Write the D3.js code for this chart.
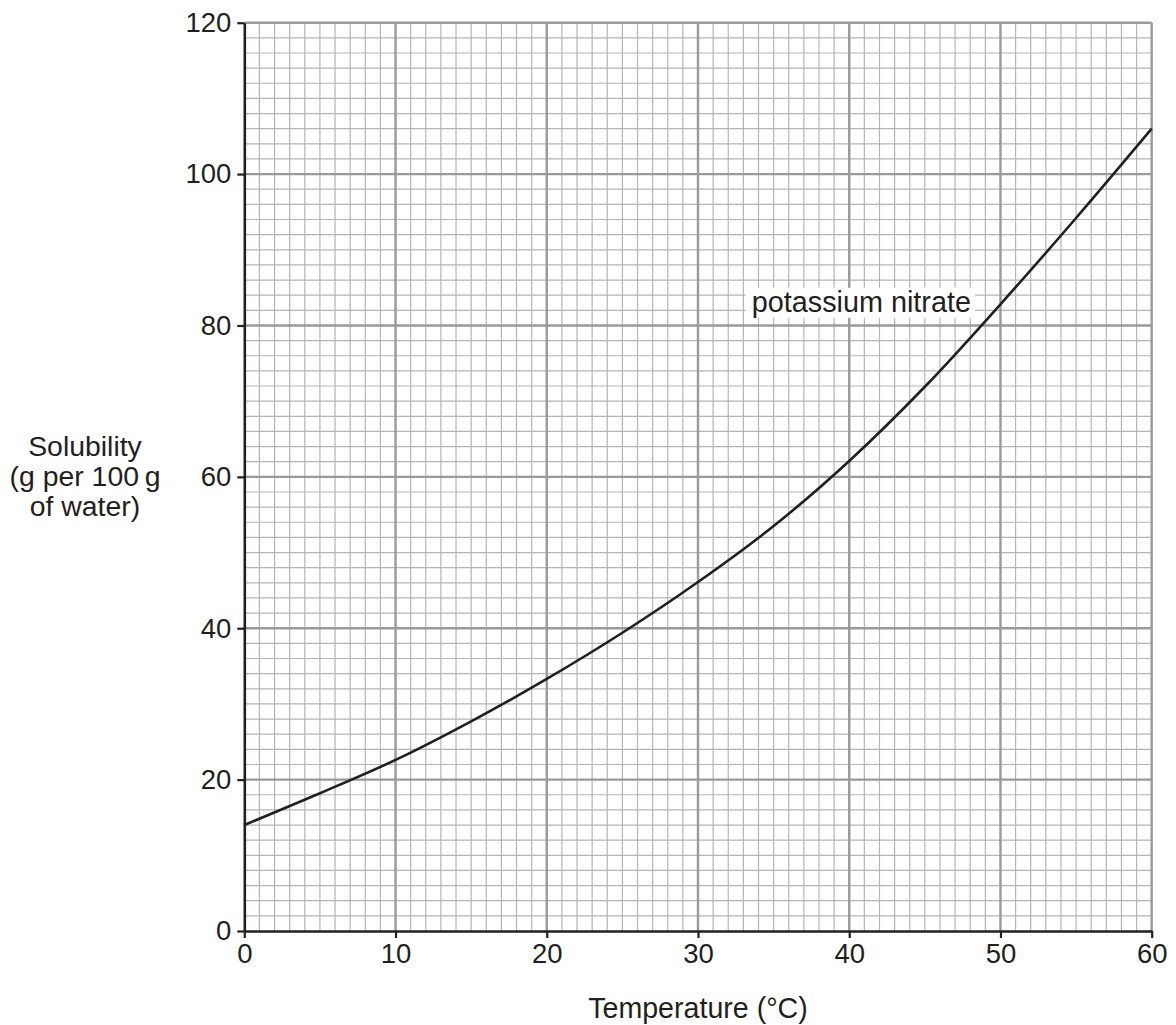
<!DOCTYPE html>
<html>
<head>
<meta charset="utf-8">
<script src="https://cdn.jsdelivr.net/npm/d3@7"></script>
<style>
  body { margin: 0; background: #fff; }
  text { font-family: "Liberation Sans", Arial, sans-serif; fill: #231f20; }
</style>
</head>
<body>
<div id="chart"></div>
<script>
// temperature (°C) and solubility (g per 100 g of water)
var temps = [0, 5, 10, 15, 20, 25, 30, 35, 40, 45, 50, 55, 60]
var solubility = [14, 18.2, 22.6, 27.7, 33.3, 39.4, 46.1, 53.5, 62.1, 71.9, 82.8, 94.2, 106]

var xTicks = [0, 10, 20, 30, 40, 50, 60]
var yTicks = [0, 20, 40, 60, 80, 100, 120]
var yTitle = ['Solubility', '(g per 100\u2009g', 'of water)']
var xTitle = 'Temperature (°C)'
var curveLabel = 'potassium nitrate'

var W = 1176, H = 1025
var margin = {top: 22.7, right: 24.3, bottom: 94, left: 244.3}
var width = W - margin.left - margin.right
var height = H - margin.top - margin.bottom

var x = d3.scaleLinear().domain([0, 60]).range([0, width])
var y = d3.scaleLinear().domain([0, 120]).range([height, 0])

var svg = d3.select('#chart').append('svg')
  .attr('width', W)
  .attr('height', H)

var g = svg.append('g')
  .attr('transform', 'translate(' + margin.left + ',' + margin.top + ')')

// graph paper: minor lines every 1 °C and every 2 g
var grid = g.append('g').attr('class', 'grid')
grid.selectAll('line.vminor')
  .data(d3.range(1, 60).filter(function(v) { return v % 10 !== 0 }))
  .enter().append('line')
  .attr('x1', function(d) { return x(d) }).attr('x2', function(d) { return x(d) })
  .attr('y1', 0).attr('y2', height)
  .attr('stroke', '#b5b5b5').attr('stroke-width', 1.2)
grid.selectAll('line.hminor')
  .data(d3.range(2, 120, 2).filter(function(v) { return v % 20 !== 0 }))
  .enter().append('line')
  .attr('y1', function(d) { return y(d) }).attr('y2', function(d) { return y(d) })
  .attr('x1', 0).attr('x2', width)
  .attr('stroke', '#b5b5b5').attr('stroke-width', 1.2)

// major lines
grid.selectAll('line.vmajor')
  .data(xTicks.slice(1))
  .enter().append('line')
  .attr('x1', function(d) { return x(d) }).attr('x2', function(d) { return x(d) })
  .attr('y1', 0).attr('y2', height)
  .attr('stroke', '#9a9a9a').attr('stroke-width', 2.4)
grid.selectAll('line.hmajor')
  .data(yTicks.slice(1))
  .enter().append('line')
  .attr('y1', function(d) { return y(d) }).attr('y2', function(d) { return y(d) })
  .attr('x1', 0).attr('x2', width)
  .attr('stroke', '#9a9a9a').attr('stroke-width', 2.4)

// label sits on a white patch over the grid
var lab = g.append('g')
  .attr('transform', 'translate(' + x(33.55) + ',' + y(81.8) + ')')
var labText = lab.append('text')
  .attr('font-size', 28.8)
  .text(curveLabel)
var bb = labText.node().getBBox()
lab.insert('rect', 'text')
  .attr('x', bb.x - 6).attr('y', bb.y + 2)
  .attr('width', bb.width + 10).attr('height', bb.height - 2)
  .attr('fill', '#fff')

// the curve
var pts = temps.map(function(t, i) { return [t, solubility[i]] })
var line = d3.line()
  .x(function(d) { return x(d[0]) })
  .y(function(d) { return y(d[1]) })
  .curve(d3.curveCatmullRom.alpha(0.5))
g.append('path')
  .datum(pts)
  .attr('fill', 'none')
  .attr('stroke', '#231f20')
  .attr('stroke-width', 2.6)
  .attr('d', line)

// axes
var xAxis = d3.axisBottom(x).tickValues(xTicks).tickSize(7).tickPadding(4).tickSizeOuter(0)
var yAxis = d3.axisLeft(y).tickValues(yTicks).tickSize(7).tickPadding(6).tickSizeOuter(0)

var gx = g.append('g')
  .attr('transform', 'translate(0,' + height + ')')
  .call(xAxis)
var gy = g.append('g')
  .call(yAxis)

;[gx, gy].forEach(function(a) {
  a.select('.domain').attr('stroke', '#231f20').attr('stroke-width', 2.6)
  a.selectAll('.tick line').attr('stroke', '#231f20').attr('stroke-width', 2.2)
  a.selectAll('.tick text')
    .attr('font-size', 27.5)
    .attr('font-family', '"Liberation Sans", Arial, sans-serif')
    .attr('fill', '#231f20')
})
gx.selectAll('.tick text').attr('dy', '0.75em')

// titles
g.append('text')
  .attr('x', width / 2)
  .attr('y', height + 87)
  .attr('text-anchor', 'middle')
  .attr('font-size', 28.6)
  .text(xTitle)

var yt = svg.append('text')
  .attr('text-anchor', 'middle')
  .attr('font-size', 28.4)
yt.selectAll('tspan')
  .data(yTitle)
  .enter().append('tspan')
  .attr('x', 85)
  .attr('y', function(d, i) { return 456 + i * 30 })
  .text(function(d) { return d })
</script>
</body>
</html>
